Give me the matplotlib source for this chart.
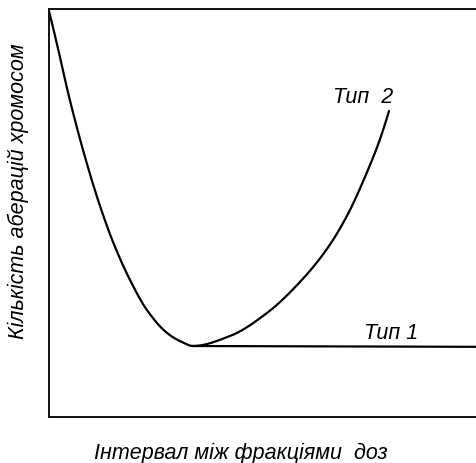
import numpy as np
import matplotlib
matplotlib.use("Agg")
import matplotlib.pyplot as plt

plt.rcParams['font.family'] = ['Liberation Sans', 'DejaVu Sans']

# Schematic curves (arbitrary units, 0..100 on both axes)
fall_x = [0.0, 1.86, 3.96, 6.29, 8.86, 11.66, 14.92, 18.88, 22.84, 27.51, 30.54, 33.57]
fall_y = [99.5, 91.4, 81.6, 71.8, 62.0, 52.45, 42.9, 33.6, 26.2, 20.6, 18.6, 17.4]

type2_x = [33.57, 42.19, 50.82, 58.51, 64.80, 69.46, 74.13, 77.16, 79.25]
type2_y = [17.4, 19.85, 25.5, 33.1, 41.2, 49.3, 60.0, 68.1, 75.0]

type1_x = [33.57, 100.0]
type1_y = [17.4, 17.2]

label_type1 = "Тип 1"
label_type2 = "Тип  2"
xlabel = "Інтервал між фракціями  доз"
ylabel = "Кількість аберацій хромосом"


def pchip(xs, ys, n=800):
    """Monotone cubic Hermite curve through the points (no overshoot)."""
    x = np.asarray(xs, float)
    y = np.asarray(ys, float)
    h = np.diff(x)
    d = np.diff(y) / h
    k = len(x)
    m = np.zeros(k)
    for i in range(1, k - 1):
        if d[i - 1] * d[i] > 0:
            w1 = 2 * h[i] + h[i - 1]
            w2 = h[i] + 2 * h[i - 1]
            m[i] = (w1 + w2) / (w1 / d[i - 1] + w2 / d[i])
        else:
            m[i] = 0.0

    def end(h0, h1, d0, d1):
        s = ((2 * h0 + h1) * d0 - h0 * d1) / (h0 + h1)
        if np.sign(s) != np.sign(d0):
            return 0.0
        if np.sign(d0) != np.sign(d1) and abs(s) > abs(3 * d0):
            return 3 * d0
        return s

    m[0] = end(h[0], h[1], d[0], d[1])
    m[-1] = end(h[-1], h[-2], d[-1], d[-2])
    xx = np.linspace(x[0], x[-1], n)
    j = np.clip(np.searchsorted(x, xx) - 1, 0, k - 2)
    t = (xx - x[j]) / h[j]
    h00 = 2 * t ** 3 - 3 * t ** 2 + 1
    h10 = t ** 3 - 2 * t ** 2 + t
    h01 = -2 * t ** 3 + 3 * t ** 2
    h11 = t ** 3 - t ** 2
    yy = h00 * y[j] + h10 * h[j] * m[j] + h01 * y[j + 1] + h11 * h[j] * m[j + 1]
    return xx, yy


W, H = 476, 464
fig = plt.figure(figsize=(W / 100, H / 100), dpi=100)
ax = fig.add_axes([49 / W, 1 - 418 / H, (478 - 49) / W, (418 - 10) / H])
ax.set_xlim(0, 100)
ax.set_ylim(0, 100)
ax.set_xticks([])
ax.set_yticks([])
ax.spines['right'].set_visible(False)
for s in ('left', 'top', 'bottom'):
    ax.spines[s].set_linewidth(1.4)
    ax.spines[s].set_color('#111111')

lw = 1.6
# U-shaped curve: decline followed by the type 2 rise
u_x = fall_x + type2_x[1:]
u_y = fall_y + type2_y[1:]
sx, sy = pchip(u_x, u_y)
ax.plot(sx, sy, color='black', lw=lw, solid_capstyle='round', clip_on=False)
ax.plot(type1_x, type1_y, color='black', lw=lw)

fs = 15.5
ax.text(66.2, 77.2, label_type2, fontsize=fs, style='italic', ha='left', va='baseline')
ax.text(73.4, 19.4, label_type1, fontsize=fs, style='italic', ha='left', va='baseline')

fig.text(241 / W, 1 - 459 / H, xlabel, fontsize=fs, style='italic', ha='center', va='baseline')
fig.text(18 / W, 1 - 191 / H, ylabel, fontsize=fs, style='italic', ha='center', va='center',
         rotation=90)

fig.savefig('out.png', dpi=100, facecolor='white')
